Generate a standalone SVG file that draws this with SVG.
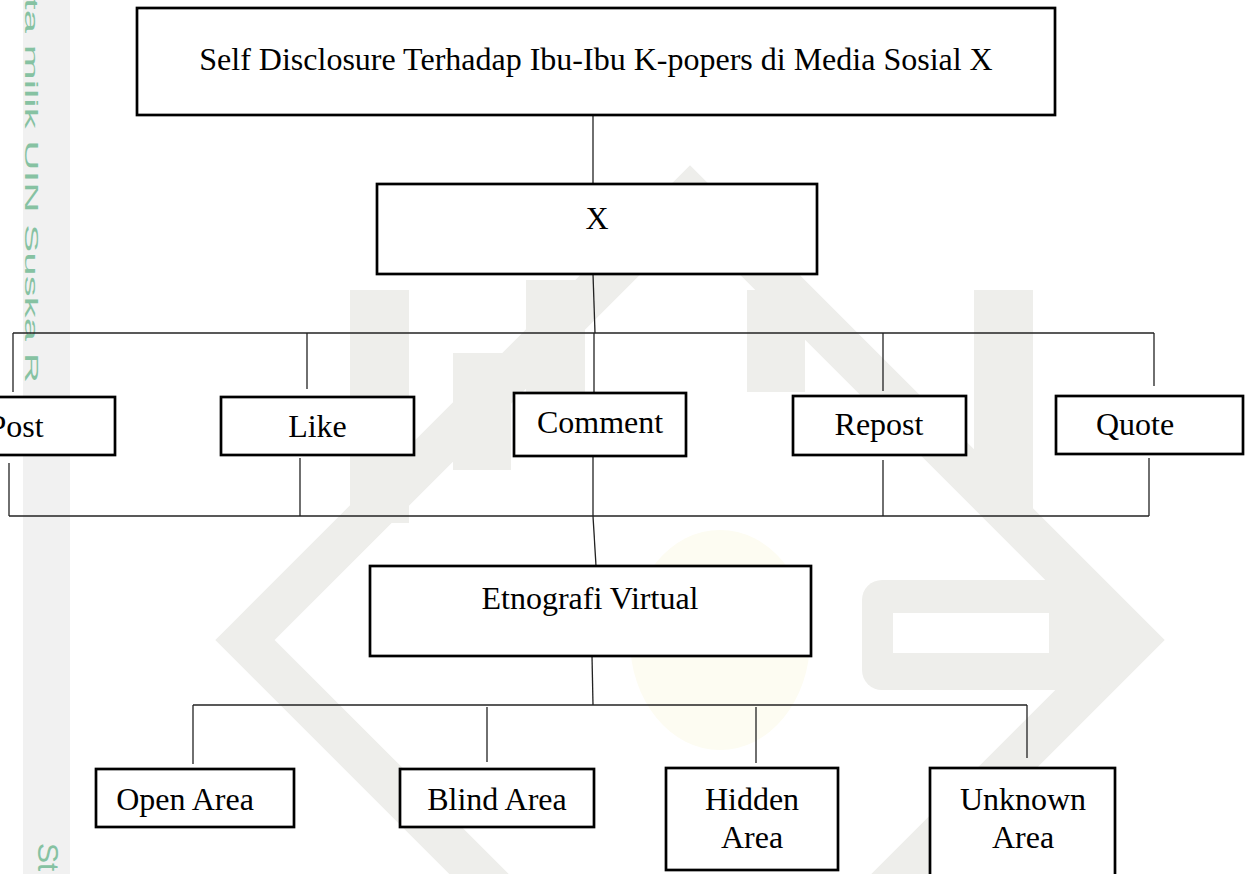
<svg xmlns="http://www.w3.org/2000/svg" width="1251" height="874" viewBox="0 0 1251 874">
<style>
.box{fill:#ffffff;stroke:#000000;stroke-width:2.7}
.lbl{font-family:"Liberation Serif","Times New Roman",serif;font-size:32px;fill:#000000;text-anchor:middle}
.wm{fill:#eeeeeb}
.side{font-family:"Liberation Sans",Arial,sans-serif;fill:#86c2a2}
#connectors line{stroke:#222222;stroke-width:1.3;fill:none}
</style>
<rect x="0" y="0" width="1251" height="874" fill="#ffffff"/>
<g id="watermark">
  <rect x="23" y="0" width="47" height="874" fill="#f1f1f1"/>
  <polygon points="245,640 690,195 1135,640 690,1085" fill="none" stroke="#eeeeeb" stroke-width="42"/>
  <rect class="wm" x="350" y="290" width="59" height="233"/>
  <rect class="wm" x="453" y="353" width="58" height="117"/>
  <rect class="wm" x="526" y="280" width="59" height="112"/>
  <rect class="wm" x="747" y="290" width="58" height="102"/>
  <rect class="wm" x="974" y="290" width="59" height="218"/>
  <rect class="wm" x="862" y="580" width="250" height="110" rx="20"/>
  <rect x="893" y="613" width="156" height="40" fill="#ffffff"/>
  <ellipse cx="720" cy="640" rx="90" ry="110" fill="#fdfcf2"/>
  <text class="side" font-size="18" transform="translate(25,-2) rotate(90)" textLength="385" lengthAdjust="spacingAndGlyphs">ta milik UIN Suska R</text>
  <text class="side" font-size="30" transform="translate(38,843) rotate(90)">St</text>
</g>
<g id="connectors">
  <line x1="593" y1="115" x2="593" y2="184"/>
  <line x1="593" y1="274" x2="595" y2="333"/>
  <line x1="13" y1="333" x2="1154" y2="333"/>
  <line x1="13" y1="333" x2="13" y2="392"/>
  <line x1="307" y1="333" x2="307" y2="389"/>
  <line x1="594" y1="333" x2="594" y2="393"/>
  <line x1="883" y1="333" x2="883" y2="391"/>
  <line x1="1154" y1="333" x2="1154" y2="386"/>
  <line x1="9" y1="463" x2="9" y2="516"/>
  <line x1="300" y1="458" x2="300" y2="516"/>
  <line x1="593" y1="456" x2="593" y2="516"/>
  <line x1="883" y1="460" x2="883" y2="516"/>
  <line x1="1149" y1="458" x2="1149" y2="516"/>
  <line x1="9" y1="516" x2="1149" y2="516"/>
  <line x1="593" y1="516" x2="596" y2="566"/>
  <line x1="592" y1="656" x2="593" y2="705"/>
  <line x1="193" y1="705" x2="1027" y2="705"/>
  <line x1="193" y1="705" x2="193" y2="764"/>
  <line x1="487" y1="707" x2="487" y2="762"/>
  <line x1="756" y1="707" x2="756" y2="763"/>
  <line x1="1027" y1="705" x2="1027" y2="758"/>
</g>
<g id="node-top">
  <rect class="box" x="137" y="8" width="918" height="107"/>
  <text class="lbl" x="596" y="70">Self Disclosure Terhadap Ibu-Ibu K-popers di Media Sosial X</text>
</g>
<g id="node-x">
  <rect class="box" x="377" y="184" width="440" height="90"/>
  <text class="lbl" x="597" y="229">X</text>
</g>
<g id="node-post">
  <rect class="box" x="-78" y="397" width="193" height="58"/>
  <text class="lbl" x="16" y="437">Post</text>
</g>
<g id="node-like">
  <rect class="box" x="221" y="397" width="193" height="58"/>
  <text class="lbl" x="317.5" y="437">Like</text>
</g>
<g id="node-comment">
  <rect class="box" x="514" y="393" width="172" height="63"/>
  <text class="lbl" x="600" y="433">Comment</text>
</g>
<g id="node-repost">
  <rect class="box" x="793" y="396" width="173" height="59"/>
  <text class="lbl" x="879" y="435">Repost</text>
</g>
<g id="node-quote">
  <rect class="box" x="1056" y="396" width="187" height="58"/>
  <text class="lbl" x="1135" y="435">Quote</text>
</g>
<g id="node-etnografi">
  <rect class="box" x="370" y="566" width="441" height="90"/>
  <text class="lbl" x="590" y="609">Etnografi Virtual</text>
</g>
<g id="node-open">
  <rect class="box" x="96" y="769" width="198" height="58"/>
  <text class="lbl" x="185" y="810">Open Area</text>
</g>
<g id="node-blind">
  <rect class="box" x="400" y="769" width="194" height="58"/>
  <text class="lbl" x="497" y="810">Blind Area</text>
</g>
<g id="node-hidden">
  <rect class="box" x="666" y="768" width="172" height="102"/>
  <text class="lbl" x="752" y="810">Hidden</text>
  <text class="lbl" x="752" y="848">Area</text>
</g>
<g id="node-unknown">
  <rect class="box" x="930" y="768" width="185" height="108"/>
  <text class="lbl" x="1023" y="810">Unknown</text>
  <text class="lbl" x="1023" y="848">Area</text>
</g>
</svg>
